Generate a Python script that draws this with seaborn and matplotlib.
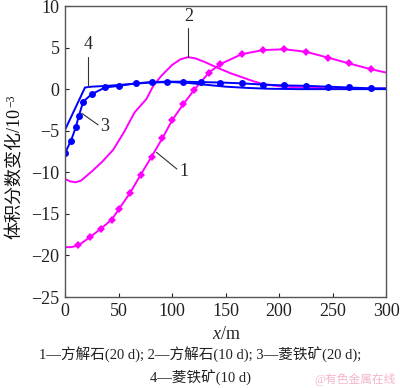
import matplotlib
matplotlib.use("Agg")
import matplotlib.pyplot as plt
import seaborn as sns
import pandas as pd
import numpy as np

sns.set_theme(style="ticks")
plt.rcParams['font.family'] = ['Liberation Serif', 'Noto Sans CJK SC']
plt.rcParams['mathtext.fontset'] = 'custom'
plt.rcParams['mathtext.rm'] = 'Liberation Serif'
plt.rcParams['mathtext.it'] = 'Liberation Serif:italic'

# Curve 1: calcite 20 d (magenta, diamond markers)
x1 = [0, 6, 12.4, 23.4, 33.3, 43.6, 50.5, 60.7, 70.7, 81, 91, 100.3, 110.6, 120.6,
      134.6, 145, 165, 185, 205, 225, 245.5, 265.4, 285.7, 300]
y1 = [-19, -19, -18.8, -17.8, -16.8, -15.7, -14.4, -12.5, -10.3, -8.1, -5.9, -3.7,
      -1.8, -0.1, 2.0, 3.0, 4.2, 4.7, 4.8, 4.5, 3.8, 3.1, 2.4, 2.0]
m1 = [False, False] + [True] * 21 + [False]

# Curve 2: calcite 10 d (magenta)
x2 = [0, 5, 10, 15, 25, 35, 45, 55, 65, 76, 82.5, 90, 100, 108, 115, 122, 130, 142,
      155, 164, 175, 185, 200, 220, 250, 300]
y2 = [-10.8, -11.1, -11.2, -11.0, -9.9, -8.7, -7.3, -5.2, -2.8, -1.2, 0.4, 1.6, 2.9,
      3.6, 3.85, 3.7, 3.3, 2.6, 1.9, 1.5, 1.0, 0.6, 0.35, 0.2, 0.1, 0.05]

# Curve 3: siderite 20 d (blue, circle markers)
x3 = [0, 5.6, 10, 13, 17, 25, 37.4, 50.5, 66, 81, 95.6, 110.6, 126.8, 145, 165,
      185, 205, 225, 245.5, 265.4, 285.7, 300]
y3 = [-7.7, -6.2, -4.6, -3.2, -1.5, -0.6, 0.2, 0.4, 0.7, 0.85, 0.9, 0.9, 0.85,
      0.8, 0.7, 0.55, 0.45, 0.4, 0.3, 0.2, 0.1, 0.1]
m3 = [True] * 21 + [False]

# Curve 4: siderite 10 d (blue)
x4 = [0, 18.7, 25, 40, 60, 80, 100, 115, 130, 150, 170, 190, 220, 260, 300]
y4 = [-4.9, 0.2, 0.3, 0.4, 0.6, 0.8, 0.85, 0.75, 0.55, 0.3, 0.15, 0.05, 0.0, 0.0, 0.0]

xticks = [0, 50, 100, 150, 200, 250, 300]
yticks = [10, 5, 0, -5, -10, -15, -20, -25]

magenta = '#ff00ff'
blue = '#0000ff'

fig = plt.figure(figsize=(4, 3.88), dpi=100)
ax = fig.add_axes([0.1625, 0.2345, 0.8025, 0.75])

d1 = pd.DataFrame({'x': x1, 'y': y1})
d2 = pd.DataFrame({'x': x2, 'y': y2})
d3 = pd.DataFrame({'x': x3, 'y': y3})
d4 = pd.DataFrame({'x': x4, 'y': y4})

sns.lineplot(data=d2, x='x', y='y', ax=ax, color=magenta, lw=1.4, sort=False)
sns.lineplot(data=d1, x='x', y='y', ax=ax, color=magenta, lw=1.4, sort=False,
             marker='D', markersize=4.5, markeredgewidth=0, markevery=m1)
sns.lineplot(data=d4, x='x', y='y', ax=ax, color=blue, lw=1.4, sort=False)
sns.lineplot(data=d3, x='x', y='y', ax=ax, color=blue, lw=1.4, sort=False,
             marker='o', markersize=5, markeredgewidth=0, markevery=m3)

ax.set_xlim(0, 300)
ax.set_ylim(-25, 10)
ax.set_xticks(xticks)
ax.set_yticks(yticks)
ax.tick_params(direction='in', length=3, width=0.8, labelsize=13, colors='#222222',
               pad=4)
for s in ax.spines.values():
    s.set_color('#555555')
    s.set_linewidth(1.0)
ax.set_xlabel('')
ax.set_ylabel('')

# curve labels with leader lines
lk = dict(color='#333333', lw=0.8)
ax.plot([15.6, 31], [-2.9, -4.3], **lk)
ax.text(32.5, -4.5, '3', fontsize=13, ha='left', va='center')
ax.plot([21.2, 21.2], [0.3, 3.9], **lk)
ax.text(21.5, 4.4, '4', fontsize=13, ha='center', va='bottom')
ax.plot([115.2, 115.2], [3.9, 7.4], **lk)
ax.text(116, 7.7, '2', fontsize=13, ha='center', va='bottom')
ax.plot([85.5, 104.5], [-7.6, -9.6], **lk)
ax.text(107, -9.9, '1', fontsize=13, ha='left', va='center')

# y label: main part + superscript
ylab = fig.text(0.036, 0.553, '体积分数变化/10', rotation=90, fontsize=13,
                ha='center', va='center', color='#111111')
fig.canvas.draw()
bb = ylab.get_window_extent(fig.canvas.get_renderer())
W, H = fig.bbox.width, fig.bbox.height
fig.text((bb.x0 - 1) / W, (bb.y1 + 1) / H, '−3', rotation=90, fontsize=8.5,
         ha='left', va='bottom', color='#111111')

fig.text(0.565, 0.137, '$x$/m', fontsize=13, ha='center', va='center')
fig.text(0.5, 0.084, '1—方解石(20 d); 2—方解石(10 d); 3—菱铁矿(20 d);',
         fontsize=10.5, ha='center', va='center', color='#222222')
fig.text(0.5, 0.026, '4—菱铁矿(10 d)', fontsize=10.5, ha='center', va='center',
         color='#222222')
fig.text(0.99, 0.022, '@有色金属在线', fontsize=8.5, ha='right', va='center',
         color='#f4b6c8')

fig.savefig('out.png', dpi=100)
